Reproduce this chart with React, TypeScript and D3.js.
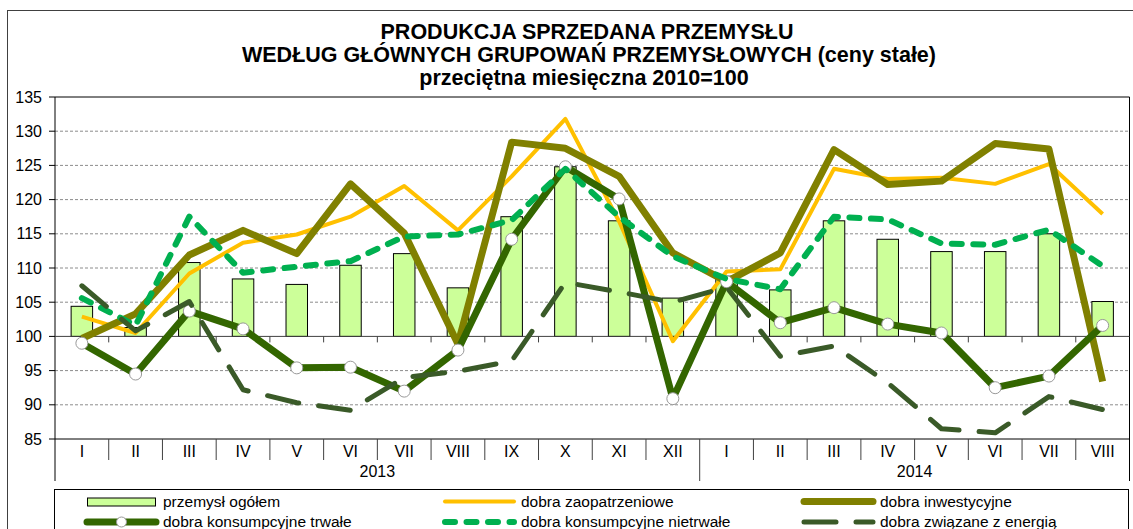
import React from "react";
import { scaleLinear, scaleBand, line, range } from "d3";

const months = [
  "I", "II", "III", "IV", "V", "VI", "VII", "VIII", "IX", "X", "XI", "XII",
  "I", "II", "III", "IV", "V", "VI", "VII", "VIII",
];
const yearLabels = ["2013", "2014"];
const yearSpans = [12, 8];
const yTicks = [85, 90, 95, 100, 105, 110, 115, 120, 125, 130, 135];

const ogolem = [104.4, 101.3, 110.8, 108.4, 107.6, 110.4, 112.1, 107.1, 117.5, 124.8, 116.9, 105.6, 108.8, 106.8, 116.9, 114.2, 112.4, 112.4, 115.0, 105.1];
const zaopatrzeniowe = [102.9, 100.5, 109.2, 113.7, 114.9, 117.5, 122.0, 115.5, 123.4, 131.8, 116.8, 99.3, 109.5, 109.8, 124.5, 123.0, 123.2, 122.3, 125.2, 117.9];
const inwestycyjne = [99.7, 103.3, 111.9, 115.5, 112.1, 122.3, 115.1, 98.9, 128.4, 127.5, 123.4, 112.2, 108.0, 112.2, 127.3, 122.2, 122.7, 128.2, 127.4, 93.4];
const trwale = [99.0, 94.5, 103.7, 101.1, 95.4, 95.5, 92.0, 98.0, 114.2, 124.8, 120.1, 90.9, 108.0, 102.0, 104.2, 101.8, 100.5, 92.5, 94.2, 101.6];
const nietrwale = [105.6, 101.6, 117.5, 109.3, 110.2, 111.0, 114.6, 114.9, 117.0, 124.5, 117.5, 111.7, 108.4, 106.9, 117.5, 117.1, 113.6, 113.4, 115.6, 110.3];
const energia = [107.4, 100.8, 105.1, 92.2, 90.3, 89.2, 94.0, 94.9, 96.4, 107.9, 106.5, 105.0, 107.2, 97.1, 98.6, 93.2, 86.5, 85.9, 91.2, 89.3];

const W = 1133;
const H = 529;
const plot = { left: 55, right: 1129.5, top: 97, bottom: 439 };
const font = "'Liberation Sans', Arial, sans-serif";

const lineSeries = [
  { name: "dobra zaopatrzeniowe", values: zaopatrzeniowe, color: "#FFC000", width: 4, dash: undefined as string | undefined, cap: "butt", marker: false },
  { name: "dobra inwestycyjne", values: inwestycyjne, color: "#808000", width: 7, dash: undefined, cap: "butt", marker: false },
  { name: "dobra konsumpcyjne trwałe", values: trwale, color: "#336600", width: 7, dash: undefined, cap: "butt", marker: true },
  { name: "dobra konsumpcyjne nietrwałe", values: nietrwale, color: "#00B050", width: 6, dash: "10 11.5", cap: "round", marker: false },
  { name: "dobra związane z energią", values: energia, color: "#3A5A28", width: 5, dash: "32 20", cap: "round", marker: false },
];

export default function App() {
  const idx = range(months.length);
  const x = scaleBand<number>().domain(idx).range([plot.left, plot.right]).padding(0);
  const y = scaleLinear().domain([85, 135]).range([plot.bottom, plot.top]);
  const bw = x.bandwidth();
  const cx = (i: number) => (x(i) ?? 0) + bw / 2;

  const lineFn = (vals: number[]) =>
    line<number>()
      .x((_, i) => cx(i))
      .y((d) => y(d))(vals) ?? "";

  // year boundaries (cumulative)
  let acc = 0;
  const yearBounds = yearSpans.map((n) => {
    const s = acc;
    acc += n;
    return [s, acc];
  });

  const legendItems = [
    { label: "przemysł ogółem", kind: "bar", col: 0, row: 0 },
    { label: lineSeries[0].name, kind: 0, col: 1, row: 0 },
    { label: lineSeries[1].name, kind: 1, col: 2, row: 0 },
    { label: lineSeries[2].name, kind: 2, col: 0, row: 1 },
    { label: lineSeries[3].name, kind: 3, col: 1, row: 1 },
    { label: lineSeries[4].name, kind: 4, col: 2, row: 1 },
  ];
  const legendCols = [87, 445, 804];
  const legendRows = [501.5, 522];

  return (
    <svg
      width={W}
      height={H}
      style={{ position: "absolute", left: 0, top: 0, background: "#fff" }}
      fontFamily={font}
    >
      <rect x={7.5} y={10.5} width={W} height={H} fill="none" stroke="#404040" />

      {/* title */}
      <g fontWeight="bold" fontSize={21.5} textAnchor="middle" fill="#000">
        <text x={587} y={38.5}>PRODUKCJA SPRZEDANA PRZEMYSŁU</text>
        <text x={589} y={62}>WEDŁUG GŁÓWNYCH GRUPOWAŃ PRZEMYSŁOWYCH (ceny stałe)</text>
        <text x={584} y={85}>przeciętna miesięczna 2010=100</text>
      </g>

      {/* gridlines */}
      {yTicks
        .filter((t) => t !== 85 && t !== 100 && t !== 135)
        .map((t) => (
          <line key={t} x1={plot.left} x2={plot.right} y1={y(t)} y2={y(t)} stroke="#8c8c8c" strokeDasharray="3 2" />
        ))}

      {/* y axis */}
      <line x1={plot.left} x2={plot.left} y1={plot.top} y2={481} stroke="#000" />
      {yTicks.map((t) => (
        <g key={t}>
          <line x1={plot.left - 6} x2={plot.left} y1={y(t)} y2={y(t)} stroke="#000" />
          <text x={42} y={y(t)} dy="0.35em" textAnchor="end" fontSize={16}>
            {t}
          </text>
        </g>
      ))}

      {/* plot border */}
      <line x1={plot.left} x2={plot.right} y1={plot.top} y2={plot.top} stroke="#000" />
      <line x1={plot.right} x2={plot.right} y1={plot.top} y2={481} stroke="#000" />

      {/* bars */}
      {ogolem.map((v, i) => (
        <rect
          key={i}
          x={cx(i) - bw * 0.2}
          width={bw * 0.4}
          y={y(v)}
          height={y(100) - y(v)}
          fill="#CCFF99"
          stroke="#000"
          strokeWidth={1}
        />
      ))}

      {/* axis at 100 */}
      <line x1={plot.left} x2={plot.right} y1={y(100)} y2={y(100)} stroke="#404040" />
      {range(1, months.length).map((i) => (
        <line key={i} x1={x(i)} x2={x(i)} y1={y(100)} y2={y(100) + 6} stroke="#404040" />
      ))}

      {/* category axis */}
      <line x1={plot.left} x2={plot.right} y1={plot.bottom} y2={plot.bottom} stroke="#000" />
      {range(1, months.length).map((i) => {
        const isYear = yearBounds.some((b) => b[0] === i);
        return (
          <line key={i} x1={x(i)} x2={x(i)} y1={plot.bottom} y2={isYear ? 481 : 460} stroke="#404040" />
        );
      })}
      {months.map((m, i) => (
        <text key={i} x={cx(i)} y={451} dy="0.35em" textAnchor="middle" fontSize={16}>
          {m}
        </text>
      ))}
      {yearLabels.map((lab, k) => {
        const [s, e] = yearBounds[k];
        const mid = ((x(s) ?? 0) + (e < months.length ? x(e) ?? 0 : plot.right)) / 2;
        return (
          <text key={lab} x={mid} y={471} dy="0.35em" textAnchor="middle" fontSize={16}>
            {lab}
          </text>
        );
      })}

      {/* lines */}
      {lineSeries.map((s) => (
        <g key={s.name}>
          <path
            d={lineFn(s.values)}
            fill="none"
            stroke={s.color}
            strokeWidth={s.width}
            strokeDasharray={s.dash}
            strokeLinecap={s.cap as "butt" | "round"}
            strokeLinejoin="round"
          />
          {s.marker &&
            s.values.map((v, i) => (
              <circle key={i} cx={cx(i)} cy={y(v)} r={6} fill="#fff" stroke="#999" strokeWidth={1} />
            ))}
        </g>
      ))}

      {/* legend */}
      <rect x={54.5} y={489.5} width={1074} height={60} fill="#fff" stroke="#000" />
      {legendItems.map((it) => {
        const lx = legendCols[it.col];
        const ly = legendRows[it.row];
        let swatch: React.ReactNode;
        if (it.kind === "bar") {
          swatch = <rect x={lx + 0.5} y={ly - 3.5} width={68} height={8} fill="#CCFF99" stroke="#000" />;
        } else {
          const s = lineSeries[it.kind as number];
          swatch = (
            <g>
              <line
                x1={lx}
                x2={lx + 69}
                y1={ly}
                y2={ly}
                stroke={s.color}
                strokeWidth={s.width}
                strokeDasharray={s.dash}
                strokeLinecap="round"
              />
              {s.marker && <circle cx={lx + 34.5} cy={ly} r={5} fill="#fff" stroke="#999" />}
            </g>
          );
        }
        return (
          <g key={it.label}>
            {swatch}
            <text x={lx + 76} y={ly} dy="0.35em" fontSize={15.5}>
              {it.label}
            </text>
          </g>
        );
      })}
    </svg>
  );
}
